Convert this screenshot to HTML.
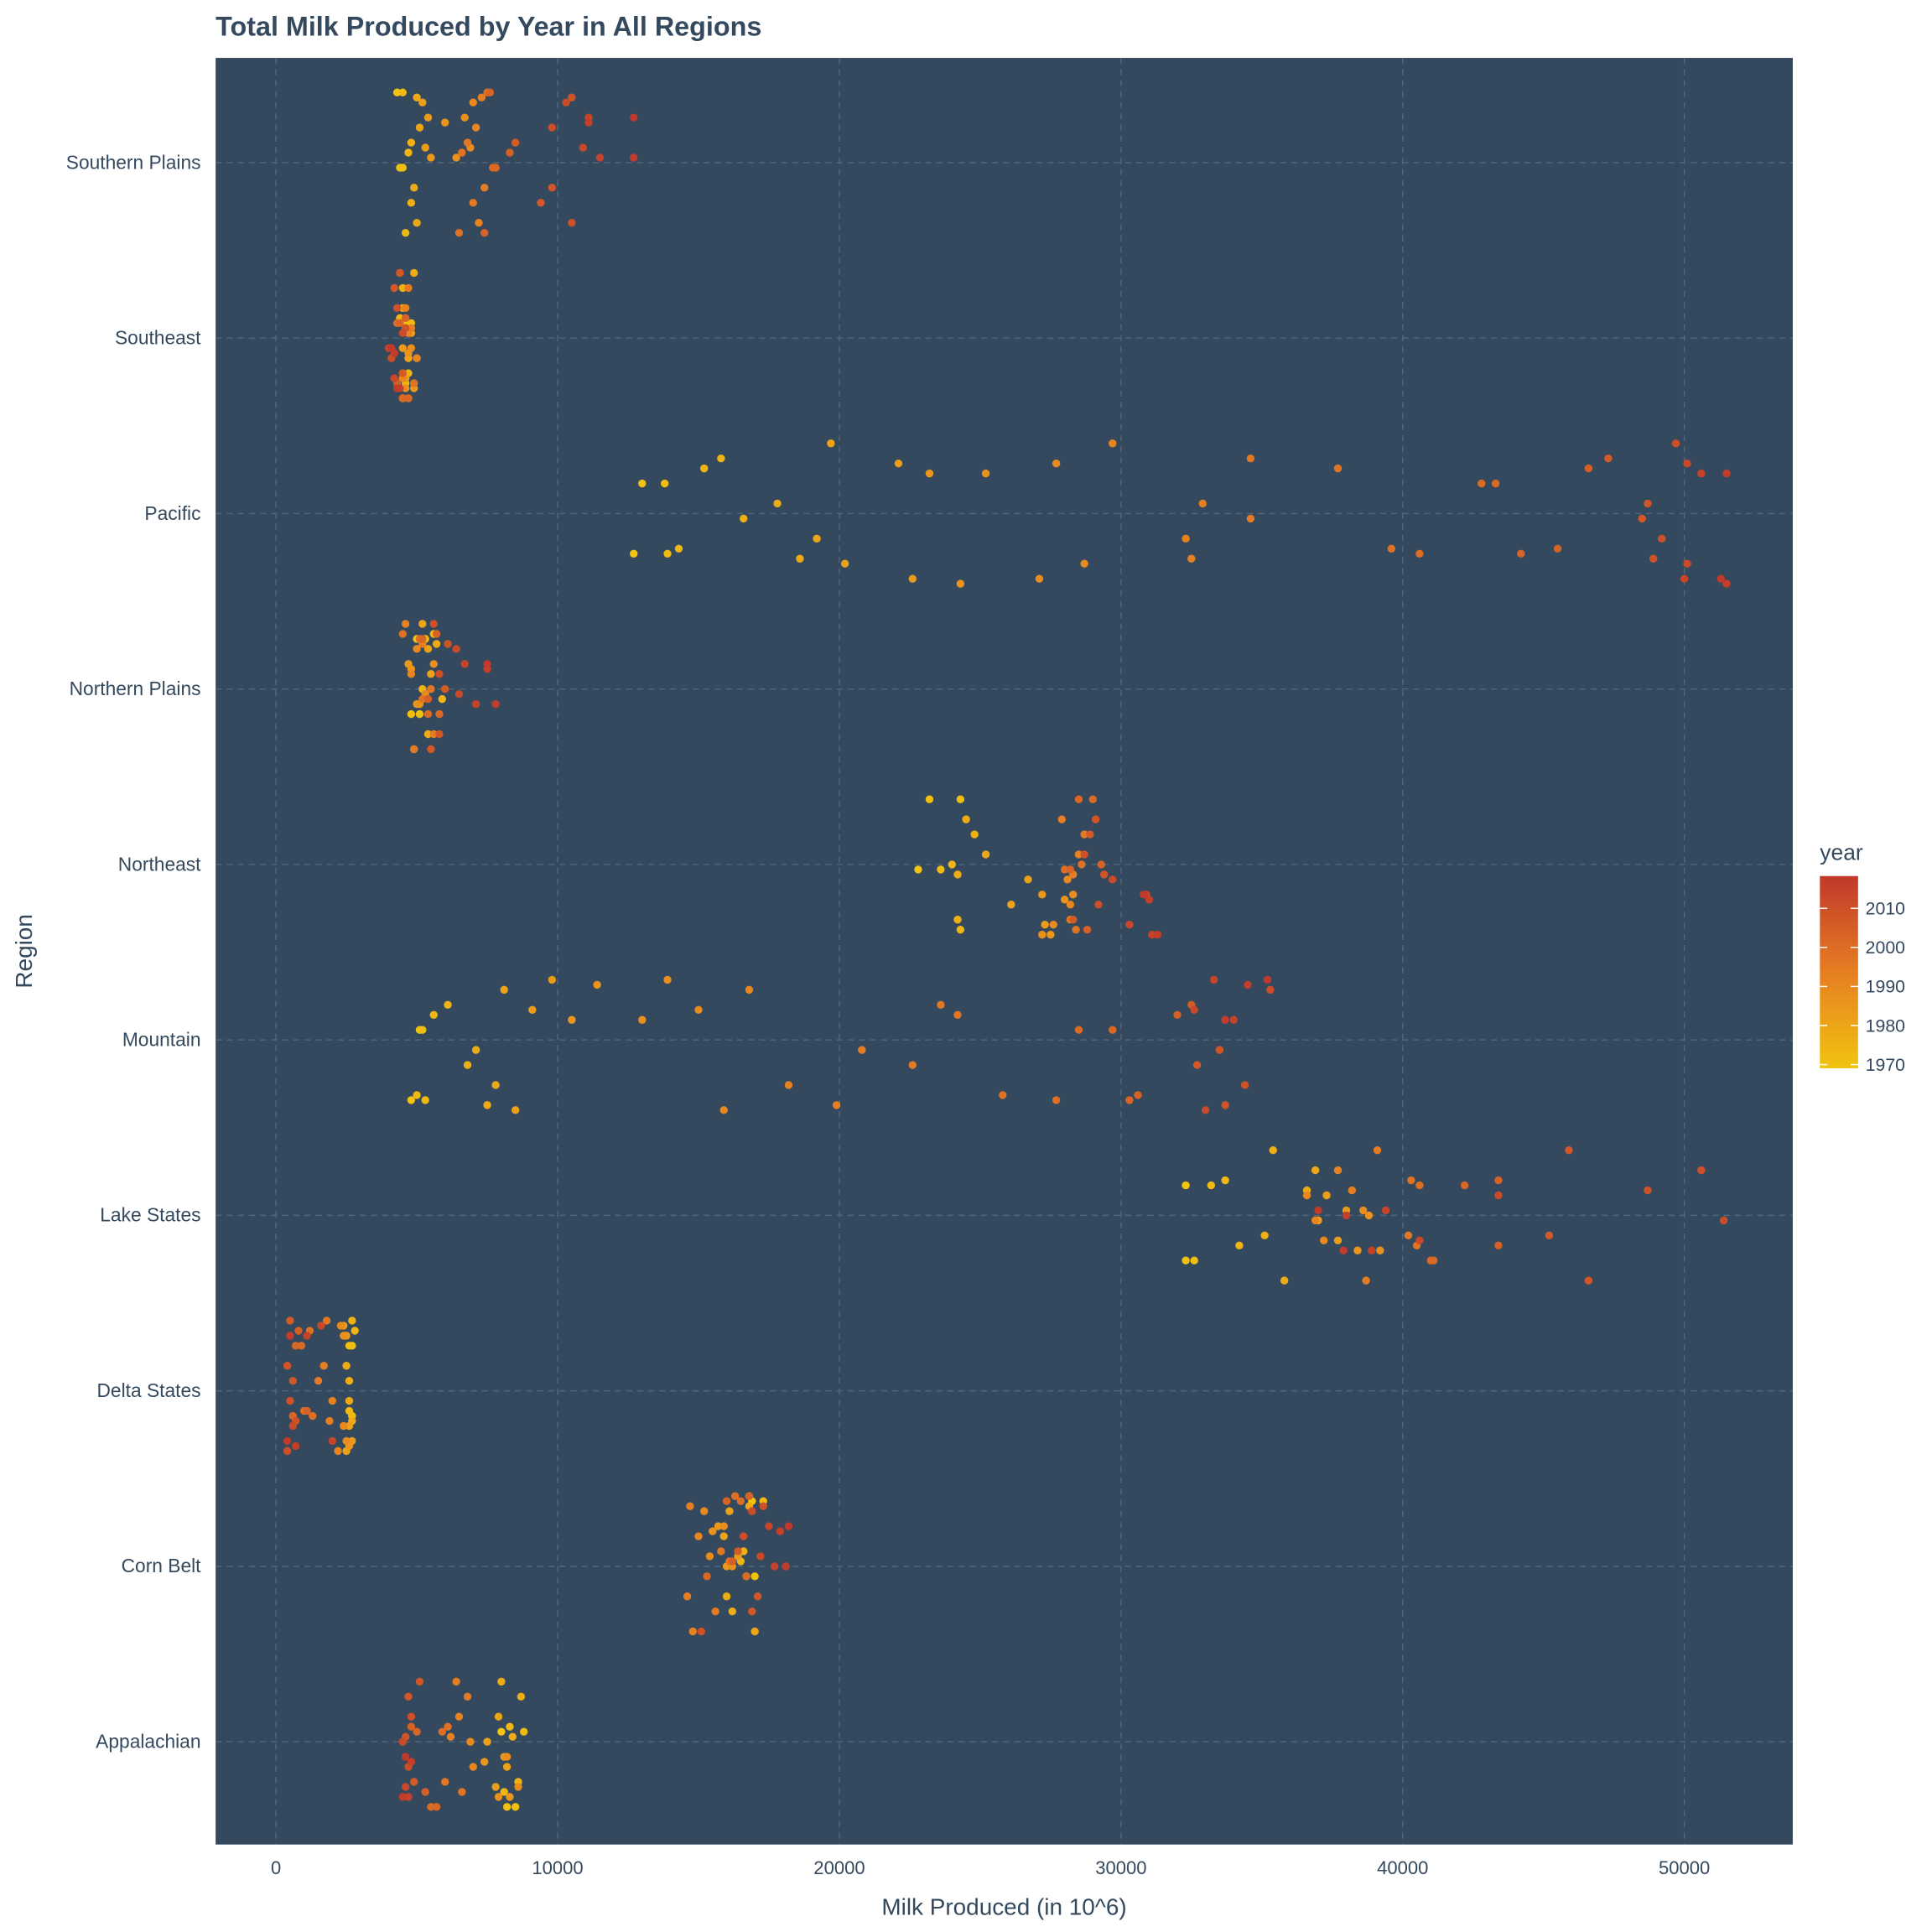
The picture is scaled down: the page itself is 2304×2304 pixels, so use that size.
<!DOCTYPE html>
<html><head><meta charset="utf-8"><style>html,body{margin:0;padding:0;background:#fff}svg{display:block}</style></head>
<body>
<svg id="chart" width="2304" height="2304" viewBox="0 0 1568 1568" xmlns="http://www.w3.org/2000/svg" font-family="Liberation Sans, sans-serif">
<defs><linearGradient id="yg" x1="0" y1="1" x2="0" y2="0"><stop offset="0" stop-color="#f1c40f"/><stop offset="0.5" stop-color="#e67e22"/><stop offset="1" stop-color="#c0392b"/></linearGradient></defs>
<text x="175" y="29" font-size="22" font-weight="bold" fill="#34495e">Total Milk Produced by Year in All Regions</text>
<rect x="175" y="47" width="1280" height="1450" fill="#34495e"/>
<g id="grid"></g><g id="pts"></g><g id="axes"></g>
<text x="815" y="1554" font-size="19" fill="#34495e" text-anchor="middle">Milk Produced (in 10^6)</text>
<text transform="translate(26,772) rotate(-90)" font-size="19" fill="#34495e" text-anchor="middle">Region</text>
<g>
<text x="1477" y="698" font-size="18" fill="#34495e">year</text>
<rect x="1477" y="711" width="31" height="156" fill="url(#yg)"/>
<g id="leg"></g>
</g>
</svg>
<script>
const regions=["Southern Plains","Southeast","Pacific","Northern Plains","Northeast","Mountain","Lake States","Delta States","Corn Belt","Appalachian"];
const xTicks=[0,10000,20000,30000,40000,50000];
const legendYears=[2010,2000,1990,1980,1970];
const spValues=[4300,4400,4500,4500,4600,4700,4800,4800,4900,5000,5000,5100,5200,5300,5400,5500,6000,6400,6700,6900,7000,7100,7200,7300,7400,7000,6800,6600,6500,7500,7700,7800,7600,7400,8300,8500,9400,9800,10500,10500,9800,10300,10900,11100,11500,11100,12700,12700];
const seValues=[4600,4700,4500,4800,4400,4600,4700,4500,4900,4600,4500,4700,4800,4600,4500,4900,4700,4600,4800,4500,4700,5000,4600,4800,4400,4700,4500,4900,4600,4300,4500,4700,4400,4600,4300,4500,4200,4400,4600,4300,4100,4500,4200,4000,4400,4200,4300,4100];
const paValues=[12700,13000,13800,13900,14300,15200,15800,16600,17800,18600,19200,19700,20200,22100,22600,23200,24300,25200,27100,27700,28700,29700,32300,32500,32900,34600,34600,37700,39600,40600,42800,43300,44200,45500,46600,47300,48500,48700,48900,49200,49700,50100,50100,50000,50600,51500,51500,51300];
const npValues=[5000,5100,4800,5300,5600,5900,5200,4900,5400,5700,5200,5500,5400,5300,4700,5000,4800,5100,5600,5300,5000,4800,4600,5200,5600,4900,5500,5200,4500,5100,5400,5800,5200,5700,5400,6000,5500,5800,6100,5600,5800,6400,6500,6700,7100,7500,7800,7500];
const neValues=[22800,23200,24300,23600,24000,24300,24200,24800,24500,24200,25200,26100,26700,27300,27200,27500,28000,27200,28300,27600,28100,28200,28500,28300,27900,28700,28200,28400,28600,28000,29000,28500,28200,29300,28800,28300,28900,29100,29400,28700,29200,29700,30300,30900,31100,31000,31300,30800];
const moValues=[4800,5100,5200,5300,5000,5600,6100,6800,7100,7500,7800,8100,8500,9100,9800,10500,11400,13000,13900,15000,15900,16800,18200,19900,20800,22600,23600,24200,25800,27700,28500,29700,30300,30600,32000,32500,32700,33500,33700,34400,35300,33000,32600,33300,34000,34500,33700,35200];
const lsValues=[32300,32300,32600,33200,33700,34200,35100,35400,35800,36600,36900,37000,37300,37700,38000,38400,38800,39200,38600,37200,36600,36900,37700,38200,38700,39100,40200,40500,40300,40600,41100,41000,42200,43400,43400,45200,45900,46600,48700,50600,51400,43400,40600,39400,38900,38000,37900,37000];
const dsValues=[2700,2700,2600,2700,2600,2800,2700,2600,2500,2700,2600,2500,2600,2400,2700,2500,2600,2400,2500,2300,2400,2200,2000,1900,1700,1500,1800,1200,1000,1300,900,700,600,1100,800,500,600,400,700,500,400,600,1600,2000,1100,700,500,400];
const cbValues=[16900,17000,16700,17300,16800,16500,16600,16200,16000,16800,17000,15900,16100,16400,15700,16000,15500,16200,15900,15400,15200,15000,14800,14700,14600,15600,15800,16100,16300,16500,16700,15300,16000,16800,16200,16400,16900,17100,17300,15100,16600,16900,17200,17500,17700,17900,18100,18200];
const apValues=[8000,8200,8500,8800,8300,8100,8600,8700,8000,8400,7900,8200,7500,7800,8100,8300,7400,7900,8200,8600,6900,7000,6500,6200,6400,6800,6000,6600,6100,5900,5500,5700,5000,4800,5300,4900,4700,5100,4600,4800,4700,4500,4600,4600,4700,4800,4500,4600];
const regionValues=[spValues,seValues,paValues,npValues,neValues,moValues,lsValues,dsValues,cbValues,apValues];
const startYear=1970;
const NS="http://www.w3.org/2000/svg";
function xs(v){return 224+v*(1367-224)/50000;}
function ys(i){return 132+i*142.4;}
function yearY(y){return 864-(y-1970)*3.17;}
function col(y){let t=(y-1970)/47;const a=[241,196,15],b=[230,126,34],c=[192,57,43];let p,q,u;if(t<0.5){p=a;q=b;u=t*2;}else{p=b;q=c;u=(t-0.5)*2;}return "rgb("+p.map((v,k)=>Math.round(v+(q[k]-v)*u)).join(",")+")";}
function mk(tag,at,parent){const e=document.createElementNS(NS,tag);for(const k in at)e.setAttribute(k,at[k]);parent.appendChild(e);return e;}
const grid=document.getElementById('grid'),pts=document.getElementById('pts'),axes=document.getElementById('axes'),leg=document.getElementById('leg');
xTicks.forEach(v=>{const l=mk('line',{x1:xs(v),x2:xs(v),y1:47,y2:1497,stroke:'#52657a','stroke-width':1,'stroke-dasharray':'5,4'},grid);


const t=mk('text',{x:xs(v),y:1521,'font-size':15,fill:'#34495e','text-anchor':'middle'},axes);t.textContent=v;

});
regions.forEach((r,i)=>{const l=mk('line',{x1:175,x2:1455,y1:ys(i),y2:ys(i),stroke:'#52657a','stroke-width':1,'stroke-dasharray':'5,4'},grid);


const t=mk('text',{x:163,y:ys(i)+5,'font-size':15.5,fill:'#34495e','text-anchor':'end'},axes);t.textContent=r;


regionValues[i].forEach((v,j)=>{const yr=startYear+j;const jit=(((j*37+i*11+j*j*7)%29)/28-0.5)*0.8*142.4;
const c=mk('circle',{cx:xs(v),cy:ys(i)+jit,r:3.2,fill:col(yr)},pts);

});});
legendYears.forEach(y=>{const t=mk('text',{x:1514,y:yearY(y)+5,'font-size':14.5,fill:'#34495e'},leg);t.textContent=y;


mk('line',{x1:1477,x2:1483,y1:yearY(y),y2:yearY(y),stroke:'#fff'},leg);mk('line',{x1:1502,x2:1508,y1:yearY(y),y2:yearY(y),stroke:'#fff'},leg);});
</script>
</body></html>
